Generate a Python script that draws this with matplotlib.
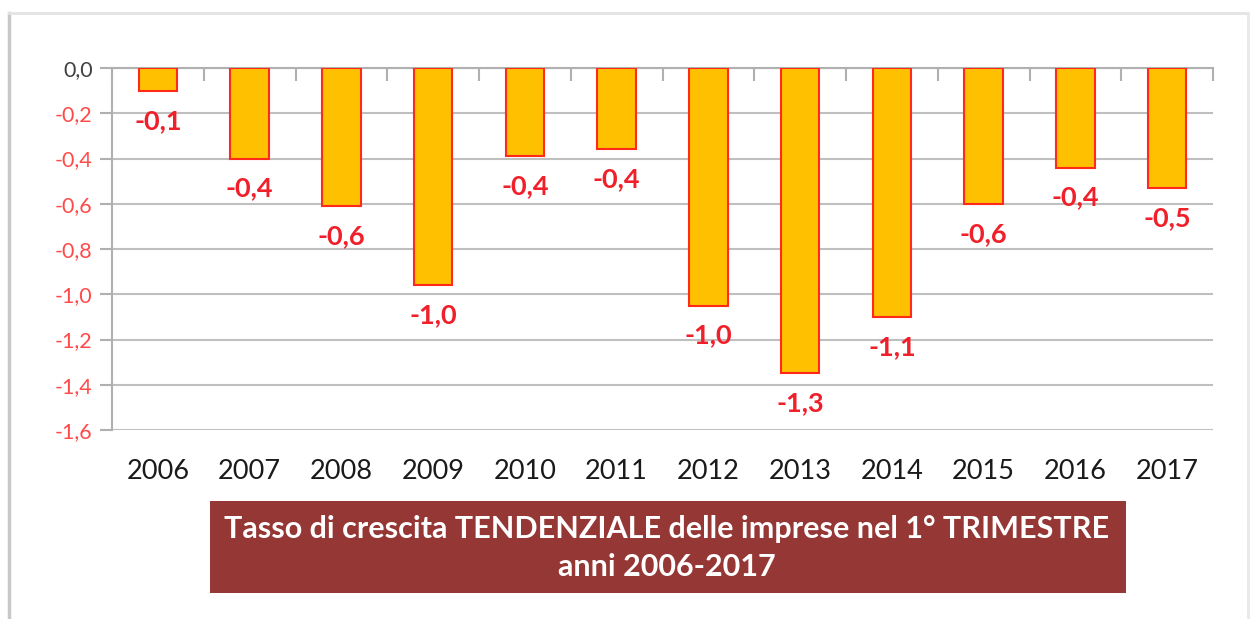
import matplotlib.pyplot as plt
from matplotlib.patches import Rectangle
from matplotlib.lines import Line2D

years = ['2006', '2007', '2008', '2009', '2010', '2011',
         '2012', '2013', '2014', '2015', '2016', '2017']
values = [-0.10, -0.40, -0.61, -0.96, -0.39, -0.36,
          -1.05, -1.35, -1.10, -0.60, -0.44, -0.53]
labels = ['-0,1', '-0,4', '-0,6', '-1,0', '-0,4', '-0,4',
          '-1,0', '-1,3', '-1,1', '-0,6', '-0,4', '-0,5']
yticks = [0.0, -0.2, -0.4, -0.6, -0.8, -1.0, -1.2, -1.4, -1.6]
title = 'Tasso di crescita TENDENZIALE delle imprese nel 1° TRIMESTRE\nanni 2006-2017'

plt.rcParams['font.family'] = ['Lato', 'DejaVu Sans']

W, H = 1250, 619
fig = plt.figure(figsize=(W / 100, H / 100), dpi=100)
ax = fig.add_axes([112 / W, 1 - 430 / H, (1213 - 112) / W, (430 - 68) / H])

x = list(range(len(years)))
ax.bar(x, values, width=0.42, color='#FFC000', edgecolor='#FF2A1A', linewidth=1.5, zorder=3)

for xi, v, lab in zip(x, values, labels):
    ax.annotate(lab, (xi, v), xytext=(0, -13), textcoords='offset points',
                ha='center', va='top', color='#F0202A', fontsize=19.5, fontweight='bold')

ax.set_xlim(-0.5, len(years) - 0.5)
ax.set_ylim(-1.6, 0.0)
ax.set_yticks(yticks)
ax.set_yticklabels([('%.1f' % t).replace('.', ',') if t != 0 else '0,0' for t in yticks])
for i, t in enumerate(ax.get_yticklabels()):
    t.set_color('#404040' if i == 0 else '#FF4A4A')
ax.tick_params(axis='y', length=9, width=1.5, color='#B0B0B0', labelsize=15.5, pad=5)

ax.set_xticks(x)
ax.set_xticklabels(years)
ax.tick_params(axis='x', length=0, labelsize=19.5, pad=21, labelcolor='#1A1A1A')
# category boundary ticks on the zero line
ax.set_xticks([i + 0.5 for i in range(-1, len(years))], minor=True)
ax.tick_params(axis='x', which='minor', top=True, bottom=False, direction='in',
               length=9, width=1.5, color='#B0B0B0')

ax.grid(axis='y', color='#BFBFBF', linewidth=1.5, zorder=0)
ax.set_axisbelow(True)
for s in ['right', 'bottom']:
    ax.spines[s].set_visible(False)
ax.spines['top'].set_color('#B0B0B0')
ax.spines['top'].set_linewidth(1.5)
ax.spines['left'].set_color('#B0B0B0')
ax.spines['left'].set_linewidth(1.5)

# title box below the chart
fig.patches.append(Rectangle((210 / W, 1 - 593 / H), (1126 - 210) / W, (593 - 501) / H,
                             transform=fig.transFigure, facecolor='#953735', edgecolor='none'))
fig.text(667 / W, 1 - 548 / H, title, ha='center', va='center', color='white',
         fontsize=22, fontweight='bold', linespacing=1.4)

# outer frame
fig.add_artist(Line2D([9 / W, 9 / W], [0, 1 - 13 / H], transform=fig.transFigure, color='#C8C8C8', lw=2.5))
fig.add_artist(Line2D([9 / W, 1248 / W], [1 - 13 / H, 1 - 13 / H], transform=fig.transFigure, color='#E4E4E4', lw=2))
fig.add_artist(Line2D([1248 / W, 1248 / W], [0, 1 - 13 / H], transform=fig.transFigure, color='#E8E8E8', lw=2))

fig.savefig('out.png', dpi=100)
